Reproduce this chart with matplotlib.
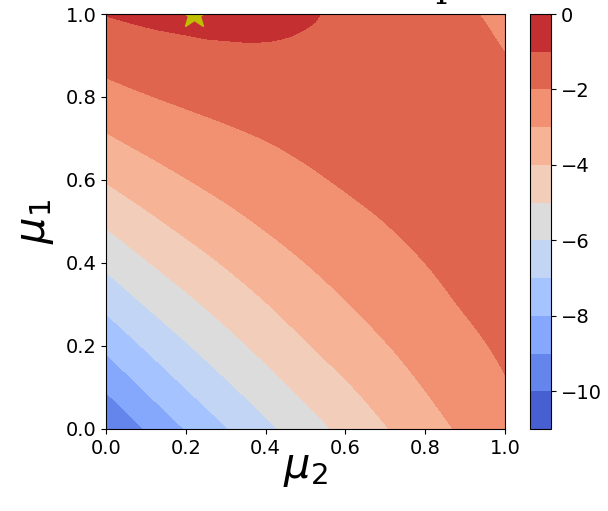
import numpy as np
import matplotlib
matplotlib.use("Agg")
import matplotlib.pyplot as plt
import matplotlib.tri as mtri

# grid coordinates (same for both parameters)
mu2_vals = [0.0, 0.1, 0.2, 0.3, 0.4, 0.5, 0.6, 0.7, 0.8, 0.9, 1.0]
mu1_vals = [0.0, 0.1, 0.2, 0.3, 0.4, 0.5, 0.6, 0.7, 0.8, 0.9, 1.0]

# log-probability on the grid, one row per mu1 value (bottom -> top)
logp_r00 = [-9.95, -8.93, -7.96, -7.06, -6.23, -5.46, -4.74, -4.06, -3.42, -2.83, -2.30]
logp_r01 = [-8.88, -7.88, -6.98, -6.18, -5.44, -4.74, -4.12, -3.54, -2.97, -2.47, -2.07]
logp_r02 = [-7.80, -6.89, -6.09, -5.37, -4.70, -4.08, -3.54, -3.05, -2.61, -2.21, -1.86]
logp_r03 = [-6.77, -5.95, -5.25, -4.62, -4.04, -3.52, -3.05, -2.64, -2.27, -1.94, -1.68]
logp_r04 = [-5.79, -5.07, -4.46, -3.92, -3.43, -3.00, -2.63, -2.30, -2.00, -1.74, -1.56]
logp_r05 = [-4.85, -4.23, -3.71, -3.27, -2.88, -2.55, -2.25, -1.99, -1.75, -1.57, -1.48]
logp_r06 = [-3.94, -3.45, -3.03, -2.69, -2.40, -2.14, -1.91, -1.71, -1.56, -1.47, -1.44]
logp_r07 = [-3.11, -2.72, -2.42, -2.18, -1.98, -1.80, -1.65, -1.51, -1.42, -1.40, -1.47]
logp_r08 = [-2.33, -2.05, -1.84, -1.68, -1.56, -1.47, -1.41, -1.37, -1.37, -1.44, -1.64]
logp_r09 = [-1.63, -1.44, -1.29, -1.17, -1.12, -1.15, -1.22, -1.30, -1.40, -1.55, -1.98]
logp_r10 = [-0.97, -0.80, -0.71, -0.72, -0.79, -0.93, -1.14, -1.38, -1.63, -1.88, -2.25]

# best point
best_mu2 = 0.22
best_mu1 = 1.0

levels = np.arange(-11, 1)
cbar_ticks = [0, -2, -4, -6, -8, -10]

Z = np.array([logp_r00, logp_r01, logp_r02, logp_r03, logp_r04, logp_r05,
              logp_r06, logp_r07, logp_r08, logp_r09, logp_r10])
X, Y = np.meshgrid(mu2_vals, mu1_vals)

# triangulate the regular grid (diagonals run top-left to bottom-right),
# then let matplotlib smooth it
ny, nx = Z.shape
tris = []
for j in range(ny - 1):
    for i in range(nx - 1):
        a = j * nx + i
        tris.append([a, a + 1, a + nx])
        tris.append([a + 1, a + nx + 1, a + nx])
tri = mtri.Triangulation(X.ravel(), Y.ravel(), np.array(tris))
interp = mtri.CubicTriInterpolator(tri, Z.ravel(), kind="geom")
refiner = mtri.UniformTriRefiner(tri)
tri_f, z_f = refiner.refine_field(Z.ravel(), triinterpolator=interp, subdiv=4)

fig = plt.figure(figsize=(6.08, 5.11), dpi=100)
ax = fig.add_axes([0.1743, 0.1605, 0.6562, 0.8121])
cax = fig.add_axes([0.8717, 0.1605, 0.0345, 0.8121])

cs = ax.tricontourf(tri_f, z_f, levels=levels, cmap="coolwarm")
ax.plot(best_mu2, best_mu1, marker="*", color="y", markersize=22,
        linestyle="none")

ax.set_xlim(0, 1)
ax.set_ylim(0, 1)
ax.tick_params(labelsize=14)
ax.set_xlabel(r"$\mu_2$", fontsize=30, labelpad=-8)
ax.set_ylabel(r"$\mu_1$", fontsize=30, labelpad=7)

cb = fig.colorbar(cs, cax=cax, ticks=cbar_ticks)
cb.ax.tick_params(labelsize=14)

fig.text(0.79, 1.005, "Loss landscape", ha="right", va="baseline",
         fontsize=26, family="DejaVu Serif")

fig.savefig("out.png", dpi=100)
